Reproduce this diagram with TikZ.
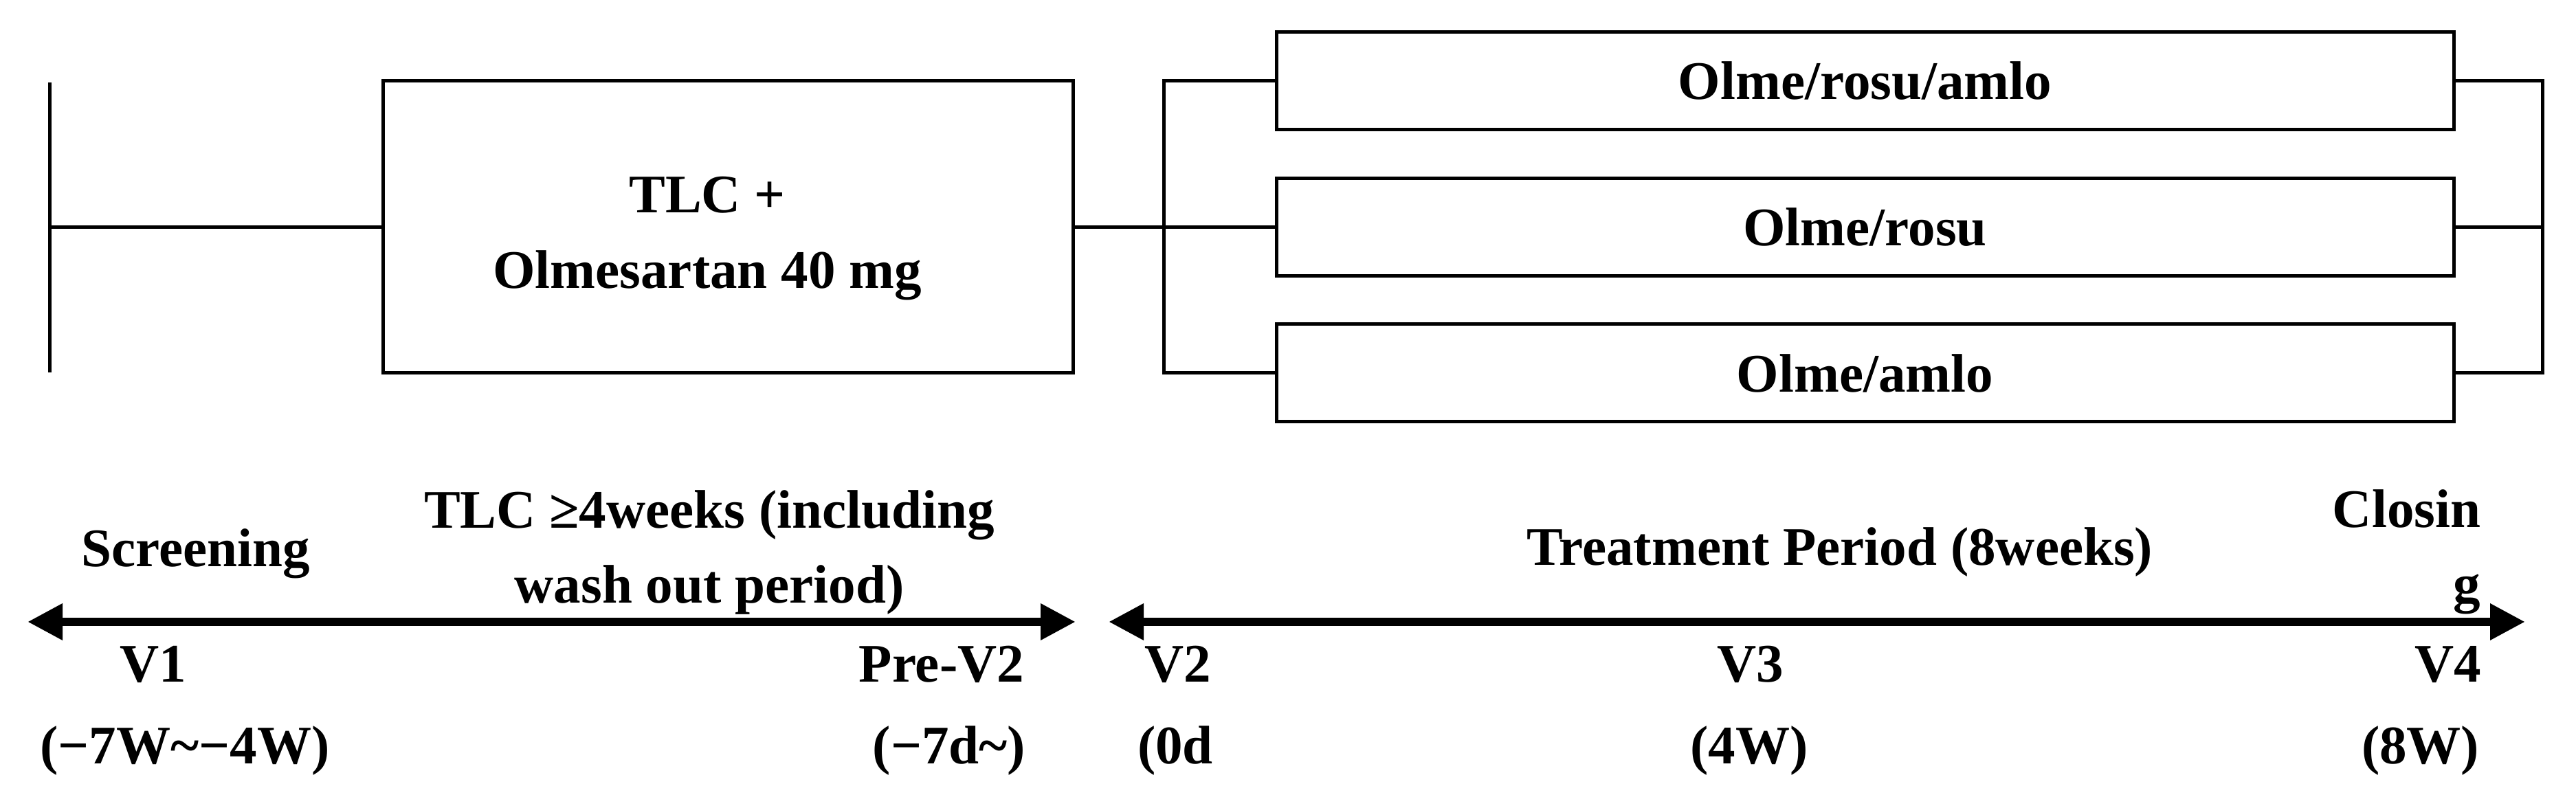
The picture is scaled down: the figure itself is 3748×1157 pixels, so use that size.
\documentclass[tikz,border=0pt]{standalone}
\usepackage{fontspec}
\setmainfont{Liberation Serif}
\usetikzlibrary{arrows.meta,positioning}

\begin{document}
\begin{tikzpicture}[
  x=0.1mm,y=0.1mm,
  font=\fontsize{22.5}{31.2}\selectfont\bfseries,
  bx/.style={draw,line width=0.5mm,outer sep=0pt,inner sep=0pt,align=center},
  arm/.style={bx,minimum width=171.3mm,minimum height=14.2mm},
  ln/.style={line width=0.5mm},
  ar/.style={{Triangle[length=5.1mm,width=5mm]}-{Triangle[length=5.1mm,width=5mm]},line width=1.27mm},
  lbl/.style={inner sep=0pt,anchor=base}
]
\useasboundingbox (0,0) rectangle (3748,1157);
% run-in and randomised arms
\node[bx,minimum width=100.4mm,minimum height=42.5mm] (tlc) at (1059,826.5) {\rule{0pt}{8.6mm}TLC +\hspace*{6mm}\\Olmesartan 40 mg\hspace*{6mm}};
\node[arm,right=29.6mm of tlc] (arm2) {Olme/rosu};
\node[arm,above=7.05mm of arm2] (arm1) {Olme/rosu/amlo};
\node[arm,below=7.05mm of arm2] (arm3) {Olme/amlo};
\coordinate (start) at (72,826.5);
\coordinate (starttop) at (72,1037);
\coordinate (startbot) at (72,615);
\coordinate (split) at (1693,826.5);
\coordinate (merge) at (3699,826.5);
\draw[ln] (starttop) -- (startbot);
\draw[ln] (start) -- (tlc.west);
\draw[ln] (tlc.east) -- (arm2.west);
\draw[ln] (arm1.west) -| (split) |- (arm3.west);
\draw[ln] (arm1.east) -| (merge) |- (arm3.east);
\draw[ln] (arm2.east) -- (merge);
% timeline
\coordinate (t1l) at (40,252);
\coordinate (t1r) at (1565,252);
\coordinate (t2l) at (1613,252);
\coordinate (t2r) at (3674,252);
\draw[ar] (t1l) -- (t1r);
\draw[ar] (t2l) -- (t2r);
\node[lbl] (screen) at (285,332) {Screening};
\node[lbl,align=center] (washout) at (1032,279) {TLC ≥4weeks (including\\wash out period)};
\node[lbl] (treat) at (2677,334) {Treatment Period (8weeks)};
\node[lbl,anchor=base east,align=right] (closing) at (3610,280) {Closin\\g};
% visits
\node[lbl] (v1) at (223,164) {V1};
\node[lbl] (prev2) at (1370,164) {Pre-V2};
\node[lbl] (v2) at (1714,164) {V2};
\node[lbl] (v3) at (2547,164) {V3};
\node[lbl,anchor=base east] (v4) at (3611,164) {V4};
\node[lbl] (d1) at (269,45) {(−7W\textasciitilde−4W)};
\node[lbl] (dpre) at (1381,45) {(−7d\textasciitilde)};
\node[lbl] (d2) at (1710,45) {(0d};
\node[lbl] (d3) at (2545,45) {(4W)};
\node[lbl,anchor=base east] (d4) at (3608,45) {(8W)};
\end{tikzpicture}
\end{document}
